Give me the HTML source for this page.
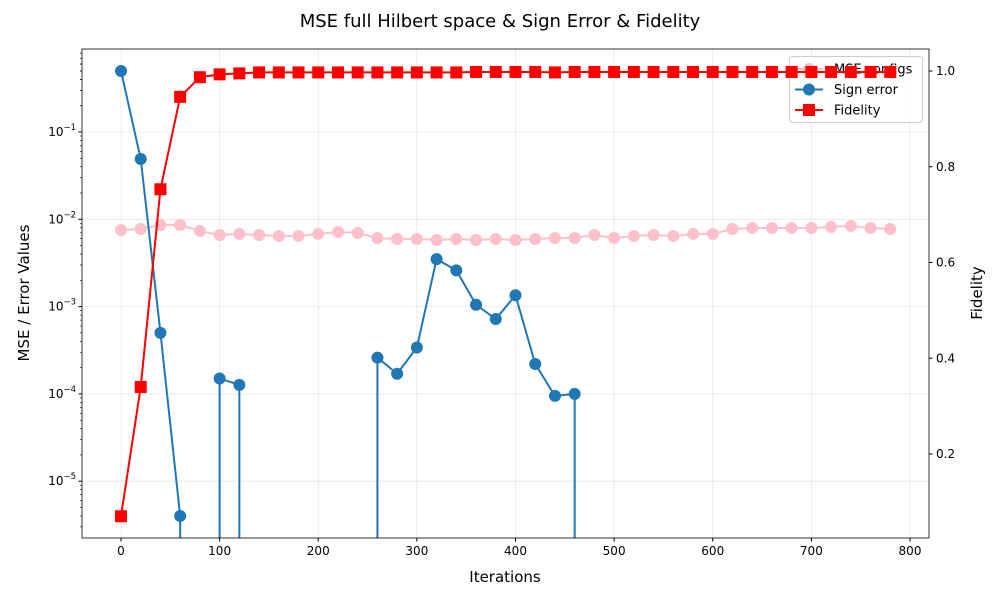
<!DOCTYPE html>
<html><head><meta charset="utf-8"><style>
html,body{margin:0;padding:0;background:#fff;overflow:hidden;width:1000px;height:600px;font-family:"Liberation Sans","DejaVu Sans",sans-serif}
svg{display:block}
</style></head><body>
<svg id="c" width="1000" height="600" xmlns="http://www.w3.org/2000/svg" font-family="DejaVu Sans, Liberation Sans, sans-serif"></svg>
<script>
const iterations=[0,20,40,60,80,100,120,140,160,180,200,220,240,260,280,300,320,340,360,380,400,420,440,460,480,500,520,540,560,580,600,620,640,660,680,700,720,740,760,780];
const mseConfigs=[0.00754,0.00774,0.0086,0.0086,0.00734,0.0066,0.0068,0.0066,0.00644,0.00644,0.0068,0.00715,0.00697,0.0061,0.00594,0.00594,0.0058,0.00594,0.0058,0.00594,0.0058,0.00594,0.0061,0.0061,0.0066,0.0061,0.00644,0.0066,0.00644,0.0068,0.0068,0.00774,0.00794,0.00794,0.00794,0.00794,0.00817,0.0084,0.00794,0.00774];
const signError=[0.5,0.049,0.0005,0.000004,0,0.00015,0.000127,0,0,0,0,0,0,0.00026,0.00017,0.00034,0.0035,0.0026,0.00105,0.00072,0.00135,0.00022,0.000095,0.0001,0,0,0,0,0,0,0,0,0,0,0,0,0,0,0,0];
const fidelity=[0.07,0.34,0.753,0.946,0.987,0.993,0.995,0.997,0.997,0.997,0.997,0.997,0.997,0.997,0.997,0.997,0.997,0.997,0.998,0.998,0.998,0.998,0.997,0.998,0.998,0.998,0.998,0.998,0.998,0.998,0.998,0.998,0.998,0.998,0.998,0.998,0.998,0.998,0.998,0.998];
const xTicks=[0,100,200,300,400,500,600,700,800];
const yLogTicks=[-5,-4,-3,-2,-1];
const yRightTicks=[0.2,0.4,0.6,0.8,1.0];
const L=82,R=929,T=49,B=538;
const X=v=>121+(v)*(910-121)/800;
const YL=v=>v<=0?null:44.7-Math.log10(v)*87.3;
const YR=v=>549.75-v*478.75;
const svg=document.getElementById('c');const NS='http://www.w3.org/2000/svg';
function el(t,a,p){const e=document.createElementNS(NS,t);for(const k in a)e.setAttribute(k,a[k]);(p||svg).appendChild(e);return e;}
function tx(x,y,s,o,p){const e=el('text',Object.assign({x:x,y:y,'font-size':12,fill:'#000'},o||{}),p);e.textContent=s;return e;}
const defs=el('defs',{});const cp=el('clipPath',{id:'pc'},defs);el('rect',{x:L,y:T,width:R-L,height:B-T},cp);
const grid=el('g',{});
xTicks.forEach(v=>el('line',{x1:X(v),x2:X(v),y1:T,y2:B,stroke:'#b0b0b0','stroke-opacity':0.3,'stroke-width':0.8},grid));
yLogTicks.forEach(e=>el('line',{x1:L,x2:R,y1:YL(Math.pow(10,e)),y2:YL(Math.pow(10,e)),stroke:'#b0b0b0','stroke-opacity':0.3,'stroke-width':0.8},grid));
function series(vals,Y,color,name,marker){
 const g=el('g',{'clip-path':'url(#pc)'});
 let d='';
 for(let i=0;i<vals.length-1;i++){
  const x0=X(iterations[i]),y0=Y(vals[i]),x1=X(iterations[i+1]),y1=Y(vals[i+1]);
  if(y0===null&&y1===null)continue;
  if(y1===null){d+='M'+x0+','+y0+'L'+x0+','+B;continue;}
  if(y0===null){d+='M'+x1+','+B+'L'+x1+','+y1;continue;}
  d+='M'+x0+','+y0+'L'+x1+','+y1;
 }
 el('path',{d:d,fill:'none',stroke:color,'stroke-width':2,'stroke-linejoin':'round'},g);
 vals.forEach((v,i)=>{const x=X(iterations[i]),y=Y(v);if(y===null)return;
  const m=marker==='s'?el('rect',{x:x-6,y:y-6,width:12,height:12,fill:color},g):el('circle',{cx:x,cy:y,r:6,fill:color},g);
  });
}
series(mseConfigs,YL,'#ffc0cb','mse-configs-series','o');
series(signError,YL,'#1f77b4','sign-error-series','o');
const lg=el('g',{});
el('rect',{x:789.5,y:56.5,width:133,height:66,rx:3,fill:'#fff','fill-opacity':0.8,stroke:'#ccc'},lg);
[['MSE configs','#ffc0cb','o'],['Sign error','#1f77b4','o'],['Fidelity','#ff0000','s']].forEach((d,i)=>{const y=69+i*20.5;
 const e=el('g',{},lg);
 el('line',{x1:795,x2:823,y1:y,y2:y,stroke:d[1],'stroke-width':2},e);
 if(d[2]==='s')el('rect',{x:803,y:y-6,width:12,height:12,fill:d[1]},e);else el('circle',{cx:809,cy:y,r:6,fill:d[1]},e);
 tx(834,y+4.5,d[0],{'font-size':13},e);});
series(fidelity,YR,'#ff0000','fidelity-series','s');
const ax=el('g',{});
el('rect',{x:L,y:T,width:R-L,height:B-T,fill:'none',stroke:'#000','stroke-width':0.8},ax);
xTicks.forEach(v=>{el('line',{x1:X(v),x2:X(v),y1:B,y2:B+3.5,stroke:'#000'},ax);const t=tx(X(v),B+17,String(v),{'text-anchor':'middle'},ax);});
yLogTicks.forEach(e=>{const y=YL(Math.pow(10,e));el('line',{x1:L-3.5,x2:L,y1:y,y2:y,stroke:'#000'},ax);
 const t=el('text',{x:L-6,y:y+4,'font-size':12,'text-anchor':'end'},ax);t.innerHTML='10<tspan dy="-6" font-size="8.5">−'+(-e)+'</tspan>';
 for(let k=2;k<10;k++){const yy=YL(k*Math.pow(10,e));if(yy>T&&yy<B)el('line',{x1:L-2,x2:L,y1:yy,y2:yy,stroke:'#000','stroke-width':0.6},ax);}});
for(let k=2;k<10;k++){const yy=YL(k*1e-6);if(yy>T&&yy<B)el('line',{x1:L-2,x2:L,y1:yy,y2:yy,stroke:'#000','stroke-width':0.6},ax);}
for(let k=2;k<10;k++){const yy=YL(k*1e-1);if(yy>T&&yy<B)el('line',{x1:L-2,x2:L,y1:yy,y2:yy,stroke:'#000','stroke-width':0.6},ax);}
yRightTicks.forEach(v=>{const y=YR(v);el('line',{x1:R,x2:R+3.5,y1:y,y2:y,stroke:'#000'},ax);const t=tx(R+7,y+4,v.toFixed(1),{},ax);});
const t1=tx(505,582,'Iterations',{'font-size':15,'text-anchor':'middle'});
const t2=tx(0,0,'MSE / Error Values',{'font-size':15,'text-anchor':'middle',transform:'translate(29,293) rotate(-90)'});
const t3=tx(0,0,'Fidelity',{'font-size':15,'text-anchor':'middle',transform:'translate(982,293) rotate(-90)'});
const t4=tx(500,27,'MSE full Hilbert space & Sign Error & Fidelity',{'font-size':18,'text-anchor':'middle'});
</script></body></html>
